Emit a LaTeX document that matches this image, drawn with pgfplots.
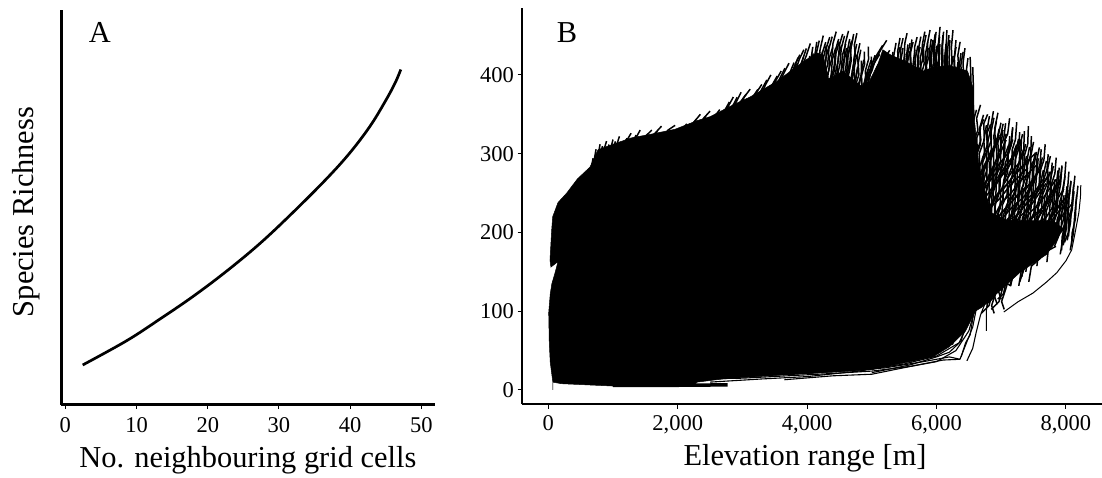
\documentclass[border=0pt]{standalone}
\usepackage{pgfplots}
\pgfplotsset{compat=1.18}
\usepackage{fontspec}
\setmainfont{Liberation Serif}
\newcommand{\s}[1]{\addplot[st] coordinates {#1};\addplot[st,xshift=-4pt,yshift=-5pt] coordinates {#1};\addplot[st,xshift=3pt,yshift=-10pt] coordinates {#1};\addplot[st,xshift=-7pt,yshift=-14pt] coordinates {#1};}
\pgfplotsset{
  st/.style={black,line width=1.5pt,line join=round,no markers},
  th/.style={black,line width=1.1pt,line join=round,no markers},
  base/.style={
    scale only axis,
    axis x line*=bottom, axis y line*=left,
    axis line style={-,line width=2.4pt,black},
    tick style={black,line width=1pt},
    tick align=outside, major tick length=4.5pt,
    xtick pos=bottom, ytick pos=left,
    /pgf/number format/assume math mode=true,
    tick label style={font=\fontsize{22.5}{25}\selectfont},
    label style={font=\fontsize{30.4}{33}\selectfont},
  }
}
\begin{document}
\begin{tikzpicture}[x=1pt,y=1pt]
\useasboundingbox (0,0) rectangle (1102pt,477pt);
\begin{axis}[base,at={(61.5pt,72.5pt)},anchor=south west,width=373.5pt,height=394.5pt,
  xmin=-0.53,xmax=51.9,ymin=0,ymax=394.5,
  xtick={0,10,20,30,40,50},ytick=\empty,
  xticklabel style={yshift=-5pt},
  xlabel={No. neighbouring grid cells},ylabel={Species Richness},
  xlabel style={at={(axis description cs:0.499,-0.1406)},anchor=center},
  ylabel style={at={(axis description cs:-0.095,0.488)},anchor=center},
]
\addplot[black,line width=2.7pt,smooth,tension=0.6,no markers] coordinates {
(2.44,39.5)(8.62,63.8)(13.3,85.5)(17.98,108.3)(22.67,133.5)(27.4,161.5)(32.02,192.5)(36.71,226)(39.99,252)(42.8,278.5)(44.9,303)(46.3,321.5)(47.1,335)};
\node[font=\fontsize{30.4}{33}\selectfont] at (rel axis cs:0.103,0.942) {A};
\end{axis}
\begin{axis}[base,at={(522pt,73pt)},anchor=south west,width=580pt,height=396pt,
  xmin=-406.5,xmax=8558,ymin=-17.8,ymax=485,
  xtick={0,2000,4000,6000,8000},ytick={0,100,200,300,400},
  xticklabel style={yshift=-3pt},
  /pgf/number format/1000 sep={,},
  xlabel={Elevation range [m]},
  xlabel style={at={(axis description cs:0.488,-0.138)},anchor=center},
]
% dense mass
\addplot[fill=black,draw=black,line width=0.5pt] coordinates {
(70,10)(30,35)(15,60)(6,98)(30,122)(55,135)(105,149)(150,163)(40,156)(26,165)(52,203)(68,220)(150,238)(284,250)(450,268)(644,283)(768,305)(1000,312)(1280,320)(1600,325)(1958,331)(2300,342)(2500,347)(2855,362)(3118,372)(3535,392)(3860,412)(4000,420)(4150,428)(4250,425)(4330,395)(4450,400)(4550,405)(4700,395)(4850,385)(4950,390)(5100,415)(5170,432)(5300,425)(5500,418)(5800,405)(5950,410)(6200,412)(6480,405)(6560,385)(6590,340)(6650,290)(6720,260)(6850,225)(7100,215)(7500,215)(7800,215)(7955,205)(7860,190)(7700,172)(7300,150)(6900,120)(6800,112)(6700,105)(6600,100)(6450,75)(6200,55)(5945,42)(5600,36)(5018,26)(4500,23)(3580,19)(2700,14)(2300,10)(2250,6)(1000,5)(200,8)(70,10)} \closedcycle;
\addplot[black,line width=3.5pt,no markers] coordinates {(1000,6)(2000,6)(2770,6.5)};
% right lobe
\s{(6680,362)(6620,345)(6640,330)(6560,312)(6570,290)(6500,270)}
\s{(6790,350)(6730,338)(6740,318)(6660,300)(6670,280)(6590,262)(6600,240)}
\s{(6880,354)(6840,335)(6850,318)(6770,300)(6780,280)(6700,258)(6710,240)}
\s{(6950,352)(6900,332)(6910,312)(6840,295)(6840,272)(6770,255)(6760,232)}
\s{(7030,338)(6990,322)(6990,300)(6920,285)(6920,262)(6850,245)(6850,222)}
\s{(7130,345)(7100,325)(7060,318)(7050,295)(6990,278)(6980,255)(6910,238)(6900,215)}
\s{(7240,340)(7220,318)(7170,305)(7160,282)(7100,270)(7090,248)(7020,235)(7000,212)}
\s{(7330,325)(7290,310)(7280,290)(7220,275)(7210,252)(7140,240)(7120,218)(7060,205)}
\s{(7420,335)(7410,312)(7360,298)(7350,275)(7290,262)(7270,240)(7210,228)(7190,205)}
\s{(7500,315)(7460,298)(7450,278)(7380,262)(7370,242)(7300,228)(7280,208)}
\s{(7590,308)(7550,292)(7540,272)(7470,258)(7460,238)(7390,225)(7370,205)}
\s{(7680,312)(7660,292)(7610,280)(7590,260)(7530,245)(7510,225)(7450,212)}
\s{(7760,297)(7720,282)(7710,262)(7640,248)(7620,228)(7560,215)(7540,198)}
\s{(7850,295)(7830,275)(7780,262)(7760,242)(7700,228)(7680,208)(7620,198)}
\s{(7940,285)(7910,265)(7860,252)(7850,232)(7780,220)(7760,202)}
\s{(8000,290)(7980,268)(7940,250)(7920,230)(7860,215)}
\s{(8080,265)(8050,245)(8000,232)(7990,212)(7930,200)}
\s{(8140,272)(8110,250)(8100,230)(8050,212)(8040,195)}
\s{(8120,260)(8090,235)(8070,212)(8020,190)}
\s{(6800,225)(6950,250)(7100,262)(7250,278)(7400,290)(7520,300)}
\s{(6850,200)(7000,225)(7150,238)(7300,252)(7450,262)(7620,282)}
\s{(6950,195)(7100,215)(7250,222)(7400,238)(7550,250)(7700,268)(7800,280)}
\s{(7000,275)(7120,290)(7220,300)(7300,318)}
\s{(6700,275)(6820,295)(6930,312)(7030,330)}
\s{(6650,250)(6800,268)(6950,285)(7100,300)(7180,318)}
\s{(7200,195)(7350,205)(7500,222)(7650,232)(7800,252)(7920,268)}
\s{(7500,195)(7650,205)(7800,222)(7950,240)(8060,250)}
% lower right
\addplot[th] coordinates {(2350,14)(3000,15)(3700,18)(4400,21)(5000,24)(5600,30)(6100,38)(6363,39)};
\addplot[th] coordinates {(6470,37)(6560,53)(6610,72)(6680,95)(6820,125)(7000,150)(7100,165)(7300,180)};
\addplot[black,line width=1pt,no markers] coordinates {(7040,99)(7260,112)(7490,123)(7700,137)(7860,149)(8000,164)(8090,178)(8150,203)(8200,225)(8225,245)(8230,260)};
\addplot[th] coordinates {(3000,17)(3800,20)(4500,24)(5200,28)(5800,36)(6200,42)(6363,39)(6560,80)(6620,105)(6700,130)};
\addplot[th] coordinates {(3650,13)(4400,18)(5000,20)(5600,30)(6000,36)(6300,50)(6500,75)(6620,110)(6720,150)};
\addplot[th] coordinates {(2500,10)(3300,14)(4000,17)(4800,24)(5500,33)(6000,43)(6350,60)(6550,95)(6700,150)(6760,170)};
\addplot[th] coordinates {(5000,22)(5600,32)(6000,42)(6200,48)(6380,62)(6480,90)(6650,130)};
\addplot[th] coordinates {(4000,21)(4800,28)(5500,38)(6050,50)(6300,65)(6450,82)(6530,112)(6620,140)};
\addplot[th] coordinates {(5950,60)(6080,68)(6180,65)(6260,82)(6350,78)(6420,100)(6500,110)};
\addplot[th] coordinates {(6050,48)(6150,60)(6250,58)(6330,75)(6420,72)(6490,95)(6560,105)};
\addplot[th] coordinates {(6380,42)(6450,60)(6520,70)(6570,95)(6630,110)};
\addplot[th] coordinates {(6790,105)(6760,135)(6770,155)(6790,180)(6790,200)};
\addplot[th] coordinates {(6770,75)(6770,100)(6800,125)(6800,160)};
\s{(6900,128)(6990,135)(7050,160)(7130,155)(7200,185)}
\s{(6800,115)(6920,125)(7000,150)(7100,145)(7170,172)(7250,175)}
\s{(7000,115)(6960,125)(7020,140)(7130,170)(7240,165)(7290,190)}
\s{(7240,150)(7300,165)(7380,178)(7390,195)(7500,190)}
\s{(7380,150)(7420,170)(7560,180)(7600,200)}
\s{(7660,175)(7680,190)(7800,195)}
% lobe 1
\s{(4150,442)(4120,425)(4050,420)(4030,405)}
\s{(4250,450)(4200,432)(4180,415)(4110,405)(4090,390)}
\s{(4350,448)(4300,435)(4290,418)(4220,405)(4200,388)}
\s{(4450,455)(4400,440)(4380,420)(4330,405)(4300,385)(4240,370)}
\s{(4550,452)(4500,438)(4480,418)(4430,400)(4410,380)(4350,365)}
\s{(4640,456)(4590,440)(4570,420)(4520,402)(4490,382)(4440,365)}
\s{(4720,452)(4680,435)(4660,415)(4610,398)(4580,378)(4530,362)}
\s{(4770,453)(4730,438)(4745,425)(4700,405)(4690,390)(4640,372)}
\s{(4830,432)(4790,415)(4800,400)(4740,385)(4720,365)}
\s{(4780,410)(4750,395)(4680,380)(4650,360)}
\s{(5230,444)(5140,432)(5060,420)(5000,405)(4920,392)(4880,370)}
\s{(4945,436)(4950,420)(4900,405)(4910,390)(4840,372)}
\s{(5050,425)(5010,415)(4960,395)(4890,380)(4850,360)}
% lobe 2
\s{(5436,447)(5400,430)(5410,412)(5350,395)}
\s{(5545,453)(5510,440)(5500,420)(5450,405)(5440,390)}
\s{(5620,445)(5590,425)(5600,410)(5540,395)}
\s{(5700,448)(5660,435)(5670,418)(5610,400)(5600,385)}
\s{(5820,455)(5780,438)(5790,420)(5730,405)(5720,388)}
\s{(5900,457)(5860,440)(5870,420)(5820,405)(5810,385)}
\s{(5980,452)(5950,435)(5960,415)(5900,400)}
\s{(6055,461)(6030,440)(6040,422)(5990,405)(5985,385)}
\s{(6110,455)(6090,438)(6100,418)(6060,400)}
\s{(6160,457)(6150,435)(6160,415)(6120,400)(6115,385)}
\s{(6255,457)(6230,435)(6240,415)(6200,400)}
\s{(6365,442)(6330,425)(6345,408)(6300,392)}
\s{(6440,434)(6410,415)(6420,398)(6380,385)}
\addplot[st] coordinates {(6520,423)(6530,400)(6535,370)(6530,340)};
\addplot[st] coordinates {(6560,410)(6570,385)(6570,340)(6580,310)};
% top edge
\s{(800,312)(770,298)(730,285)}
\s{(900,316)(860,305)(820,298)}
\s{(1000,318)(960,305)(900,298)}
\s{(1100,322)(1060,312)(1000,304)}
\s{(1280,326)(1200,315)(1130,310)}
\s{(1420,330)(1340,318)(1280,312)}
\s{(1600,330)(1500,322)(1440,312)}
\s{(1750,335)(1650,326)(1560,318)}
\s{(1960,336)(1850,330)(1760,320)}
\s{(2140,338)(2050,328)(1980,322)}
\s{(2350,350)(2250,340)(2180,328)}
\s{(2500,354)(2400,345)(2320,332)}
\s{(2650,356)(2550,345)(2470,338)}
\s{(2860,372)(2780,360)(2700,350)}
\s{(2980,378)(2900,365)(2820,355)}
\s{(3120,382)(3030,372)(2950,358)}
\s{(3300,388)(3220,378)(3130,365)}
\s{(3440,400)(3360,388)(3290,376)}
\s{(3600,405)(3510,392)(3440,380)}
\s{(3720,415)(3640,402)(3570,390)}
\s{(3860,422)(3790,408)(3720,396)}
\s{(3950,432)(3880,420)(3820,405)}
\s{(4050,440)(3990,425)(3920,410)}
\node[font=\fontsize{30.4}{33}\selectfont] at (rel axis cs:0.0776,0.937) {B};
\end{axis}
\end{tikzpicture}
\end{document}
